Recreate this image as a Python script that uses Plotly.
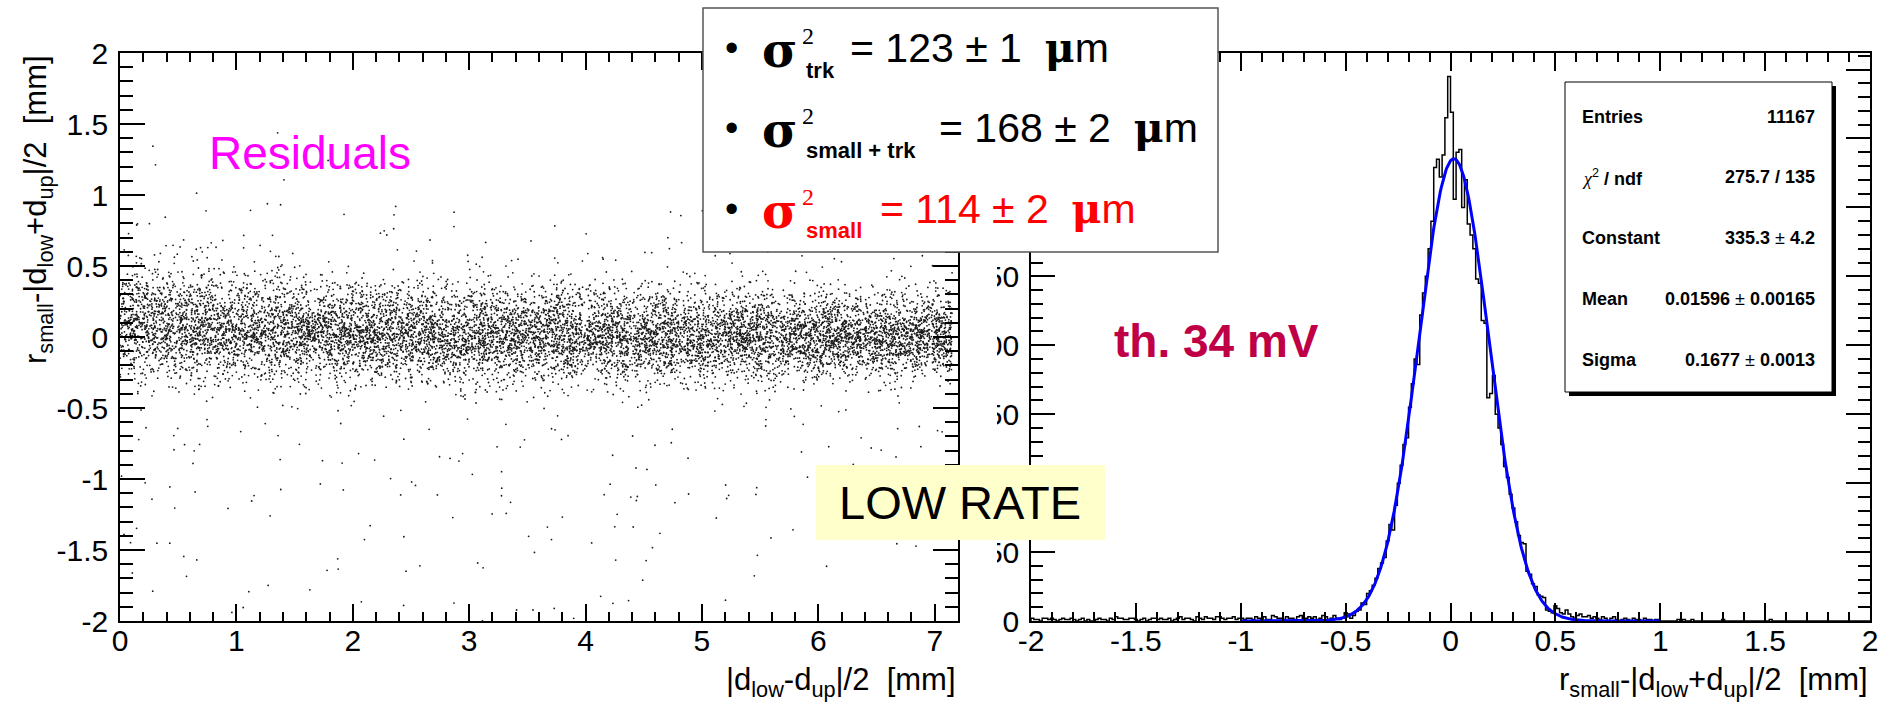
import numpy as np
import plotly.graph_objects as go

W, H = 1884, 702
FONT = "Liberation Sans, Arial, Helvetica, sans-serif"
SERIF = "DejaVu Serif, Liberation Serif, serif"

# ---------------- data ----------------
hist_range = [-2.0, 2.0]
# bins -2 .. -1
hist_left_far = [2, 1, 1, 0, 2, 2, 1, 2, 1, 0, 1, 2, 1, 1, 2, 1, 0, 1, 2, 0,
                 1, 0, 0, 1, 2, 1, 1, 0, 2, 1, 3, 2, 2, 1, 1, 2, 2, 1, 0, 1,
                 2, 0, 1, 2, 2, 1, 2, 1, 1, 2, 0, 1, 2, 3, 1, 2, 2, 1, 0, 3,
                 2, 1, 3, 2, 2, 1, 3, 3, 2, 1, 2, 2, 3, 1, 2]
# bins -1 .. -0.6
hist_left_near = [2, 1, 2, 2, 1, 3, 2, 0, 3, 1, 1, 4, 3, 2, 2, 1, 3, 2, 2, 1,
                  3, 4, 1, 2, 3, 2, 3, 1, 2, 4]
# bins -0.6 .. 0.6
hist_core = [3, 1, 2, 4, 2, 1, 2, 6, 5, 2,
             4, 7, 8, 13, 12, 20, 22, 26, 31, 38,
             42, 46, 58, 70, 66, 84, 100, 113, 128, 133,
             155, 172, 190, 186, 222, 238, 250, 270, 290, 329,
             335, 322, 338, 365, 395, 369, 306, 340, 342, 300,
             320, 288, 280, 270, 248, 245, 218, 216, 162, 165,
             178, 150, 140, 128, 112, 104, 92, 82, 72, 62,
             57, 56, 36, 34, 27, 25, 19, 18, 17, 8,
             7, 6, 11, 9, 6, 5, 8, 5, 3, 2, 4]
# bins 0.6 .. 1
hist_right_near = [5, 3, 3, 4, 2, 3, 2, 1, 3, 2, 0, 2, 3, 1, 0, 1, 2, 1, 0, 2,
                   1, 1, 0, 2, 1, 1, 0, 1, 1]
# bins 1 .. 2
hist_right_far = [0, 0, 0, 0, 0, 0, 1, 0, 1, 0,
                  0, 1, 0, 0, 0, 0, 0, 0, 0, 0,
                  0, 0, 1, 0, 0, 0, 0, 0, 0, 0,
                  0, 0, 0, 0, 0, 0, 0, 0, 0, 1,
                  0, 0, 0, 0, 0, 0, 0, 0, 0, 0,
                  0, 0, 0, 0, 0, 0, 0, 0, 0, 0,
                  0, 0, 0, 0, 0, 0, 0, 0, 0, 0,
                  0, 0, 0, 0, 0]
counts = hist_left_far + hist_left_near + hist_core + hist_right_near + hist_right_far

fit_constant = 335.3
fit_mean = 0.01596
fit_sigma = 0.1677
fit_range = [-1.0, 1.0]

stats_labels = ["<b>Entries</b>",
                "<span style='font-family:Liberation Serif'><i>χ</i></span><sup>2</sup><b> / ndf</b>",
                "<b>Constant</b>", "<b>Mean</b>", "<b>Sigma</b>"]
stats_values = ["<b>11167</b>", "<b>275.7 / 135</b>", "<b>335.3</b> ± <b>4.2</b>",
                "<b>0.01596</b> ± <b>0.00165</b>", "<b>0.1677</b> ± <b>0.0013</b>"]

legend_subs = ["trk", "small + trk", "small"]
legend_rest = ["= 123 ± 1", "= 168 ± 2", "= 114 ± 2"]
legend_colors = ["black", "black", "#ff0000"]

left_x_ticks = [0, 1, 2, 3, 4, 5, 6, 7]
left_x_text = ["0", "1", "2", "3", "4", "5", "6", "7"]
left_y_ticks = [-2, -1.5, -1, -0.5, 0, 0.5, 1, 1.5, 2]
left_y_text = ["-2", "-1.5", "-1", "-0.5", "0", "0.5", "1", "1.5", "2"]
right_x_ticks = [-2, -1.5, -1, -0.5, 0, 0.5, 1, 1.5, 2]
right_x_text = ["-2", "-1.5", "-1", "-0.5", "0", "0.5", "1", "1.5", "2"]
right_y_ticks = [0, 50, 100, 150, 200, 250, 300, 350, 400]
right_y_text = ["0", "50", "100", "150", "200", "250", "300", "350", "400"]

left_x_range = [0, 7.2]
right_y_range = [0, 412]
scatter_x_max = 7.15
# band shape of the scatter (centre shift and width factor vs x)
band_x = [0, 1, 2, 3, 4, 5, 6, 7.2]
band_center = [0.08, 0.04, 0.02, 0.0, 0.0, -0.01, 0.0, 0.0]
band_scale = [1.2, 1.1, 1.05, 1.0, 1.0, 0.95, 0.88, 0.82]

# ---------------- derived ----------------
nb = len(counts)
edges = np.linspace(hist_range[0], hist_range[1], nb + 1)
bw = edges[1] - edges[0]
cnt = np.array(counts)

step_x = np.concatenate([[edges[0]], edges[:-1], [edges[-1]]])
step_y = np.concatenate([[0], cnt, [0]])

fx = np.linspace(fit_range[0], fit_range[1], 600)
fy = fit_constant * np.exp(-0.5 * ((fx - fit_mean) / fit_sigma) ** 2)


def spread(k, s):
    # deterministic hash position in [0, 1) used to lay the dots out
    return np.modf(np.abs(np.sin(k * 12.9898 + s * 78.233)) * 43758.5453)[0]


# scatter: each histogrammed residual drawn as a dot, spread along x
bin_idx = np.repeat(np.arange(nb), cnt)
k = np.arange(1, len(bin_idx) + 1).astype(float)
u = spread(k, 1.0)
v = spread(k, 2.7)
sx = u * scatter_x_max
sy0 = edges[bin_idx] + v * bw
sy = np.interp(sx, band_x, band_center) + sy0 * np.interp(sx, band_x, band_scale)

# ---------------- geometry ----------------
X0L, X1L, X0R, X1R = 120, 958, 1031, 1870
YT, YB = 53, 621


def px(x):
    return x / W


def py(y):
    return 1 - y / H


fig = go.Figure()
fig.add_trace(go.Scatter(x=sx, y=sy, mode="markers", xaxis="x", yaxis="y",
                         marker=dict(size=1.8, color="#1a1a1a", line=dict(width=0)),
                         showlegend=False, hoverinfo="skip"))
fig.add_trace(go.Scatter(x=step_x, y=step_y, mode="lines", line_shape="hv", xaxis="x2", yaxis="y2",
                         line=dict(color="black", width=1.5), showlegend=False, hoverinfo="skip"))
fig.add_trace(go.Scatter(x=fx, y=fy, mode="lines", xaxis="x2", yaxis="y2",
                         line=dict(color="#0000ff", width=3), showlegend=False, hoverinfo="skip"))

tickfont = dict(family=FONT, size=30, color="black")


def axis(domain, rng, tv, tt, ticklen, minor_dtick, minor_len, anchor, tick0=0, standoff=0):
    return dict(domain=domain, range=rng, tickmode="array", tickvals=tv, ticktext=tt,
                ticks="inside", ticklen=ticklen, tickwidth=1.5, tickcolor="black",
                minor=dict(ticks="inside", ticklen=minor_len, dtick=minor_dtick, tick0=tick0,
                           tickwidth=1.5, tickcolor="black", showgrid=False),
                showline=True, linecolor="black", linewidth=1.5, mirror="ticks",
                showgrid=False, zeroline=False, tickfont=tickfont, anchor=anchor,
                automargin=False, ticklabelstandoff=standoff)


ydom = [py(YB), py(YT)]
layout = dict(
    width=W, height=H, margin=dict(l=0, r=0, t=0, b=0, autoexpand=False),
    paper_bgcolor="white", plot_bgcolor="white", showlegend=False,
    xaxis=axis([px(X0L), px(X1L)], left_x_range, left_x_ticks, left_x_text, 17, 0.2, 9, "y", standoff=-8),
    yaxis=axis(ydom, [-2, 2], left_y_ticks, left_y_text, 25, 0.1, 13, "x", tick0=-2, standoff=4),
    xaxis2=axis([px(X0R), px(X1R)], hist_range, right_x_ticks, right_x_text, 18, 0.1, 9, "y2",
                tick0=-2, standoff=-8),
    yaxis2=axis(ydom, right_y_range, right_y_ticks, right_y_text, 24, 10, 12, "x2", standoff=4),
)
fig.update_layout(**layout)


def rect(x0, y0, x1, y1, fill, line_color=None, lw=0):
    fig.add_shape(type="rect", xref="paper", yref="paper", layer="above",
                  x0=px(x0), x1=px(x1), y0=py(y1), y1=py(y0), fillcolor=fill,
                  line=dict(color=line_color or fill, width=lw))


rect(961, 0, 997, H, "white")
rect(703, 8, 1218, 252, "white", "#555555", 1.5)
rect(816, 465, 1105, 540, "#ffffcc")
rect(1569, 86, 1836, 396, "black")
rect(1565, 82, 1832, 392, "white", "black", 1)


def ann(text, x, y, size, xanchor="left", yanchor="middle", color="black", family=FONT, angle=0):
    fig.add_annotation(text=text, x=px(x), y=py(y), xref="paper", yref="paper",
                       xanchor=xanchor, yanchor=yanchor, showarrow=False, textangle=angle,
                       font=dict(family=family, size=size, color=color))


# axis titles
ann("r<sub>small</sub>-|d<sub>low</sub>+d<sub>up</sub>|/2 \u00a0[mm]", 38, 210, 31, "center", "middle", angle=-90)
ann("|d<sub>low</sub>-d<sub>up</sub>|/2 \u00a0[mm]", X1L, 704, 31, "right", "bottom")
ann("r<sub>small</sub>-|d<sub>low</sub>+d<sub>up</sub>|/2 \u00a0[mm]", X1R, 704, 31, "right", "bottom")

# panel labels
ann("Residuals", 310, 153, 46, "center", "middle", color="#ff00ff")
ann("<b>th. 34 mV</b>", 1216, 341, 46, "center", "middle", color="#bf0046")
ann("LOW RATE", 960, 502, 47, "center", "middle")

# legend box content
line_y = [48, 128, 209]
rest_x = [848, 937, 878]
for i in range(3):
    c = legend_colors[i]
    yc = line_y[i]
    ann("•", 731, yc, 38, "center", "middle", color="black")
    ann("<b>σ</b>", 760, yc + 2, 48, "left", "middle", color=c, family=SERIF)
    ann("2", 800, yc - 12, 24, "left", "middle", color=c, family="Liberation Serif, serif")
    ann("<b>" + legend_subs[i] + "</b>", 804, yc + 22, 22, "left", "middle", color=c)
    ann(legend_rest[i] + " \u00a0<span style='font-family:DejaVu Serif'><b>μ</b></span>m",
        rest_x[i], yc, 41, "left", "middle", color=c)

# stats box
stats_y = [117, 177, 238, 299, 360]
for lab, val, yy in zip(stats_labels, stats_values, stats_y):
    ann(lab, 1580, yy, 18, "left", "middle")
    ann(val, 1817, yy, 18, "right", "middle")

fig.write_html("out.html", config={"displayModeBar": False})
